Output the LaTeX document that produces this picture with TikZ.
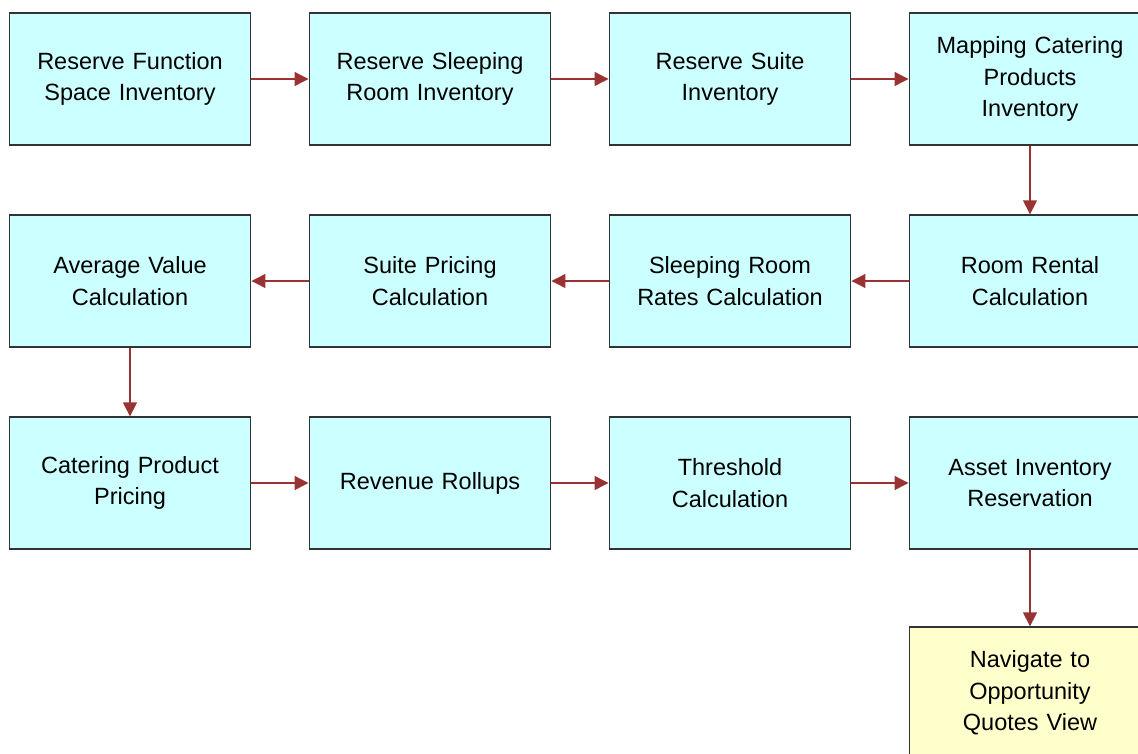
\documentclass[tikz,border=0pt]{standalone}
\usepackage{fontspec}
\setmainfont{Liberation Sans}
\usetikzlibrary{arrows.meta}
\definecolor{stepfill}{RGB}{204,255,255}
\definecolor{endfill}{RGB}{255,255,204}
\definecolor{flowred}{RGB}{153,51,51}

\begin{document}
\begin{tikzpicture}[x=1pt, y=-1pt,
		stepbox/.style={draw=black!80, line width=1.3pt, fill=stepfill, minimum width=240pt, minimum height=132pt, text width=235pt, align=center, font=\fontsize{23.5}{31.5}\selectfont},
		endbox/.style={stepbox, fill=endfill},
		flow/.style={draw=flowred, line width=1.3pt, -{Triangle[length=14pt, width=14pt]}}
	]
	\useasboundingbox (0,0) rectangle (1138,753);
	% first row
	\node[stepbox] (funcspace) at (130,79) {Reserve Function\\Space Inventory};
	\node[stepbox] (sleeproom) at (430,79) {Reserve Sleeping\\Room Inventory};
	\node[stepbox] (suiteinv) at (730,79) {Reserve Suite\\Inventory};
	\node[stepbox] (catering) at (1030,79) {Mapping Catering\\Products\\Inventory};
	% second row
	\node[stepbox] (roomrental) at (1030,281) {Room Rental\\Calculation};
	\node[stepbox] (sleeprates) at (730,281) {Sleeping Room\\Rates Calculation};
	\node[stepbox] (suiteprice) at (430,281) {Suite Pricing\\Calculation};
	\node[stepbox] (avgvalue) at (130,281) {Average Value\\Calculation};
	% third row
	\node[stepbox] (cateringprice) at (130,483) {Catering Product\\Pricing};
	\node[stepbox] (rollups) at (430,483) {Revenue Rollups};
	\node[stepbox] (threshold) at (730,483) {Threshold\\Calculation};
	\node[stepbox] (assetinv) at (1030,483) {Asset Inventory\\Reservation};
	% last step
	\node[endbox] (quotesview) at (1030,693) {Navigate to\\Opportunity\\Quotes View};
	% arrows
	\draw[flow] (funcspace) -- (sleeproom);
	\draw[flow] (sleeproom) -- (suiteinv);
	\draw[flow] (suiteinv) -- (catering);
	\draw[flow] (catering) -- (roomrental);
	\draw[flow] (roomrental) -- (sleeprates);
	\draw[flow] (sleeprates) -- (suiteprice);
	\draw[flow] (suiteprice) -- (avgvalue);
	\draw[flow] (avgvalue) -- (cateringprice);
	\draw[flow] (cateringprice) -- (rollups);
	\draw[flow] (rollups) -- (threshold);
	\draw[flow] (threshold) -- (assetinv);
	\draw[flow] (assetinv) -- (quotesview);
\end{tikzpicture}
\end{document}
